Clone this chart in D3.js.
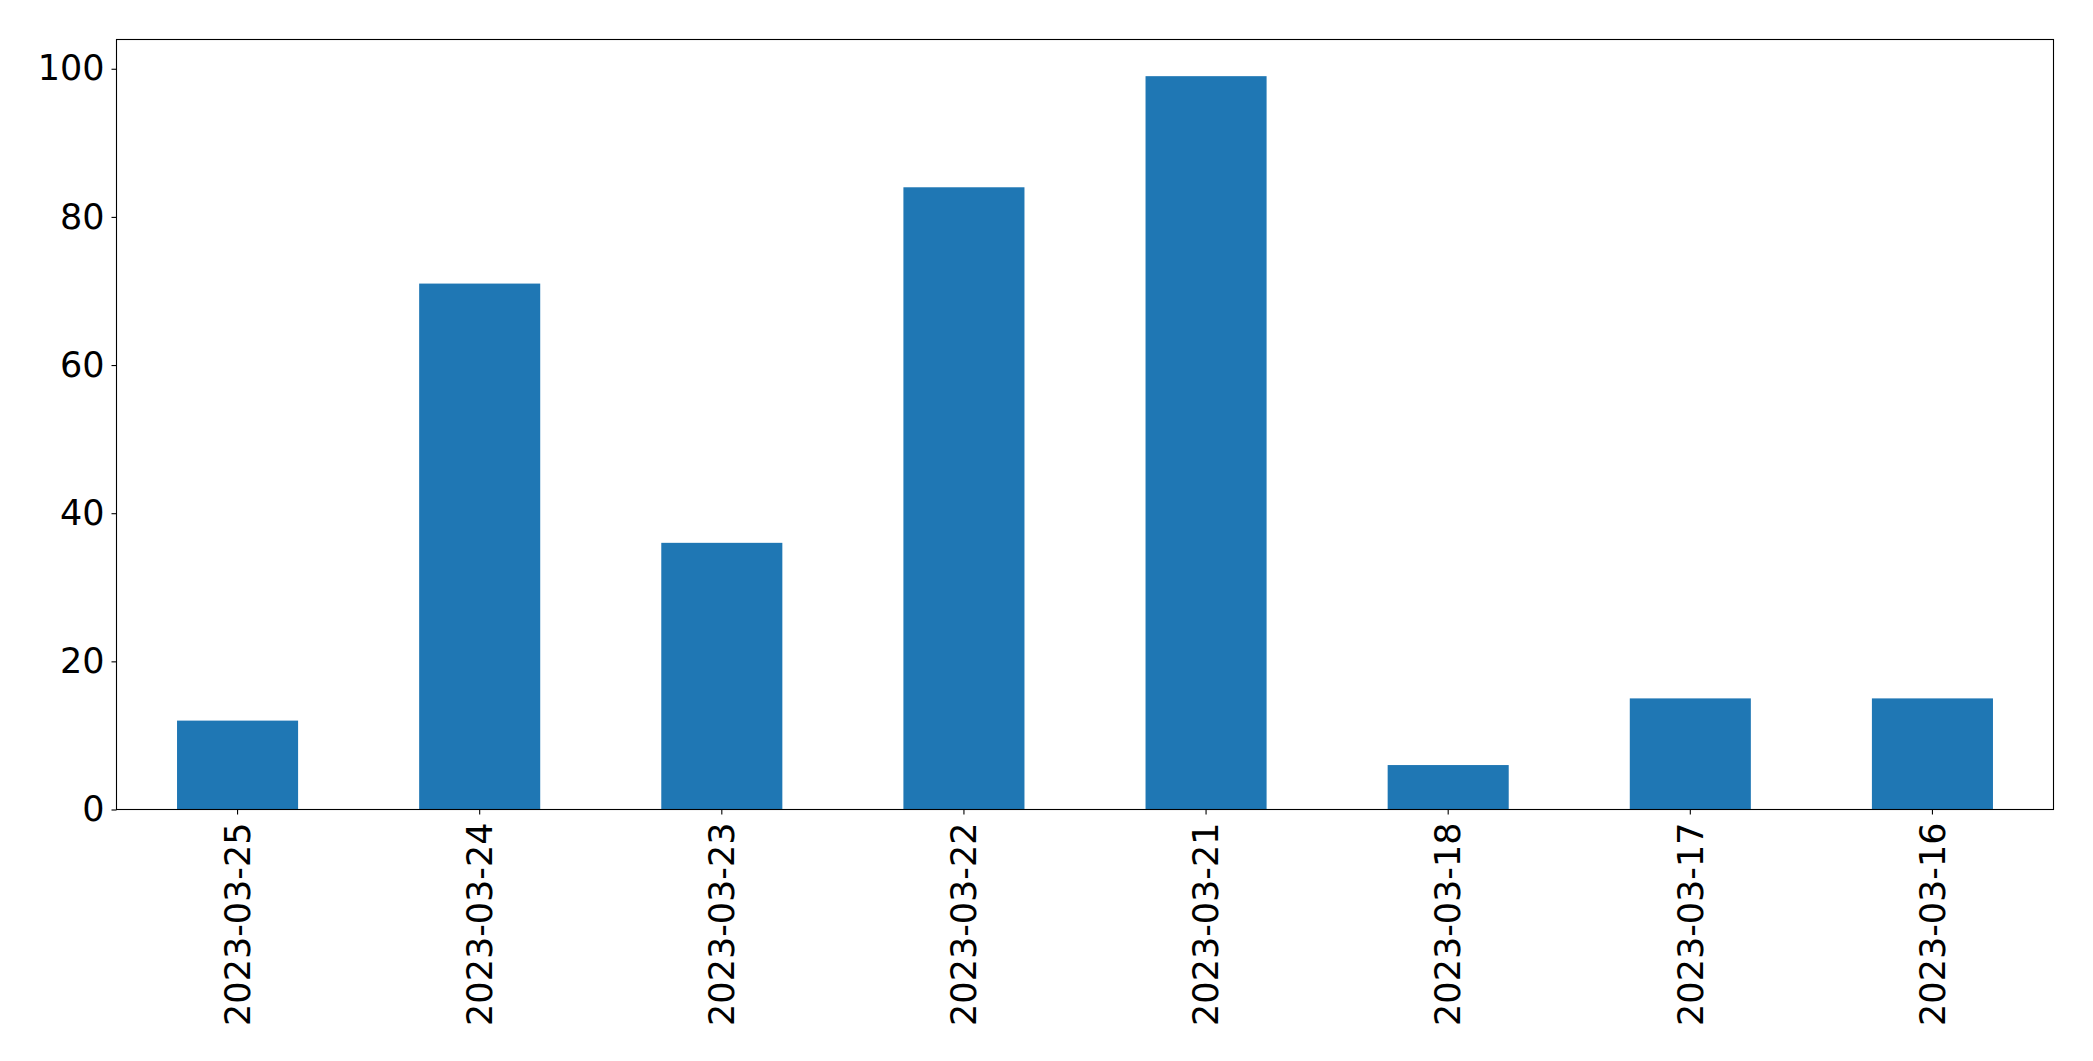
<!DOCTYPE html>
<html>
<head>
<meta charset="utf-8">
<script src="https://cdn.jsdelivr.net/npm/d3@7"></script>
<style>
html,body{margin:0;padding:0;background:#fff;}
svg{display:block;}
text{font-family:"DejaVu Sans",sans-serif;}
</style>
</head>
<body>
<script>
const categories = ["2023-03-25","2023-03-24","2023-03-23","2023-03-22","2023-03-21","2023-03-18","2023-03-17","2023-03-16"];
const values = [12, 71, 36, 84, 99, 6, 15, 15];
const yTicks = [0, 20, 40, 60, 80, 100];

const W = 2093, H = 1061;
const m = {left: 116.5, right: 2053.5, top: 39.5, bottom: 809.5};

const svg = d3.select("body").append("svg").attr("width", W).attr("height", H);

const x = d3.scaleBand().domain(categories).range([m.left, m.right]).paddingInner(0.5).paddingOuter(0.25);
const yMax = d3.max(values) * 1.05;
const y = d3.scaleLinear().domain([0, yMax]).range([m.bottom, m.top]);

svg.append("g").selectAll("rect").data(values).join("rect")
  .attr("x", (d, i) => x(categories[i]))
  .attr("width", x.bandwidth())
  .attr("y", d => y(d))
  .attr("height", d => y(0) - y(d))
  .attr("fill", "#1f77b4");

const yAxis = d3.axisLeft(y).tickValues(yTicks).tickSize(5).tickPadding(7).tickFormat(d3.format("d"));
const gy = svg.append("g").attr("transform", `translate(${m.left},0)`).call(yAxis);
gy.select(".domain").remove();
gy.selectAll("line").attr("stroke", "#000").attr("stroke-width", 1.1);
gy.selectAll("text").attr("font-size", 35).attr("fill", "#000").attr("font-family", "DejaVu Sans");

const xAxis = d3.axisBottom(x).tickSize(5).tickPadding(0);
const gx = svg.append("g").attr("transform", `translate(0,${m.bottom})`).call(xAxis);
gx.select(".domain").remove();
gx.selectAll("line").attr("stroke", "#000").attr("stroke-width", 1.1);
gx.selectAll("text")
  .attr("font-size", 35).attr("fill", "#000").attr("font-family", "DejaVu Sans")
  .attr("text-anchor", "end")
  .attr("transform", "translate(0,13) rotate(-90)")
  .attr("x", 0).attr("y", 0).attr("dy", "0.35em");

svg.append("rect")
  .attr("x", m.left).attr("y", m.top)
  .attr("width", m.right - m.left).attr("height", m.bottom - m.top)
  .attr("fill", "none").attr("stroke", "#000").attr("stroke-width", 1.1);
</script>
</body>
</html>
